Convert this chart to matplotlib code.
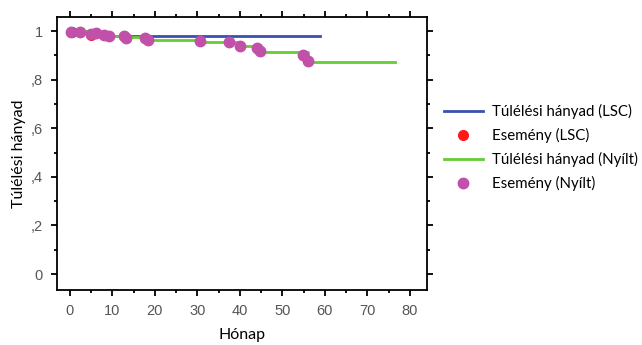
import matplotlib
matplotlib.use("Agg")
import matplotlib.pyplot as plt
from matplotlib.ticker import MultipleLocator, FixedLocator

# step curves (months, survival fraction)
lsc_t = [0, 5, 58.8]
lsc_s = [1.0, 0.979, 0.979]
lsc_ev_t = [0.5, 5.0]
lsc_ev_s = [0.995, 0.982]

nyilt_t = [0, 5, 9, 13, 18.4, 30.6, 40, 44.7, 56, 76.6]
nyilt_s = [1.0, 0.99, 0.98, 0.974, 0.962, 0.955, 0.938, 0.912, 0.871, 0.871]
nyilt_ev_t = [0.4, 2.4, 5.1, 6.1, 8.0, 9.2, 12.7, 13.2, 17.6, 18.4, 30.6,
              37.4, 40.0, 44.0, 44.7, 54.8, 56.0]
nyilt_ev_s = [0.995, 0.995, 0.987, 0.99, 0.984, 0.979, 0.979, 0.97, 0.97, 0.963, 0.958,
              0.953, 0.94, 0.93, 0.918, 0.9, 0.878]

yticks = [0, 0.2, 0.4, 0.6, 0.8, 1.0]
ylabels = ["0", ",2", ",4", ",6", ",8", "1"]

fig = plt.figure(figsize=(6.42, 3.45), dpi=100)
ax = fig.add_axes([0.0888, 0.159, 0.5762, 0.792])

ax.step(lsc_t, lsc_s, where="post", color="#3a4fb0", lw=2, label="Túlélési hányad (LSC)")
ax.plot(lsc_ev_t, lsc_ev_s, "o", color="#ff1a1a", ms=7, label="Esemény (LSC)")
ax.step(nyilt_t, nyilt_s, where="post", color="#66cc33", lw=2, label="Túlélési hányad (Nyílt)")
ax.plot(nyilt_ev_t, nyilt_ev_s, "o", color="#c050a8", ms=7.5, label="Esemény (Nyílt)")

ax.set_xlim(-3, 84)
ax.set_ylim(-0.066, 1.058)
ax.xaxis.set_major_locator(MultipleLocator(10))
ax.xaxis.set_minor_locator(MultipleLocator(5))
ax.yaxis.set_major_locator(FixedLocator(yticks))
ax.yaxis.set_minor_locator(MultipleLocator(0.1))
ax.set_yticklabels(ylabels)

for s in ax.spines.values():
    s.set_linewidth(1.3)
ax.tick_params(which="both", direction="out", top=True, right=True, width=1.3,
               labelsize=10.5, labelcolor="#555555", pad=6)
ax.tick_params(which="major", length=4)
ax.tick_params(which="minor", length=2.5)
for lab in ax.get_xticklabels() + ax.get_yticklabels():
    lab.set_family("Liberation Sans")

ax.set_xlabel("Hónap", family="Lato", fontsize=11.5, labelpad=7)
ax.set_ylabel("Túlélési hányad", family="Lato", fontsize=11.5)
ax.yaxis.set_label_coords(-0.083, 0.5)

fig.legend(loc="center left", bbox_to_anchor=(0.67, 0.572), frameon=False,
           prop={"family": "Lato", "size": 10.8}, handlelength=2.6,
           labelspacing=0.6, handletextpad=0.6)

fig.savefig("out.png", dpi=100)
